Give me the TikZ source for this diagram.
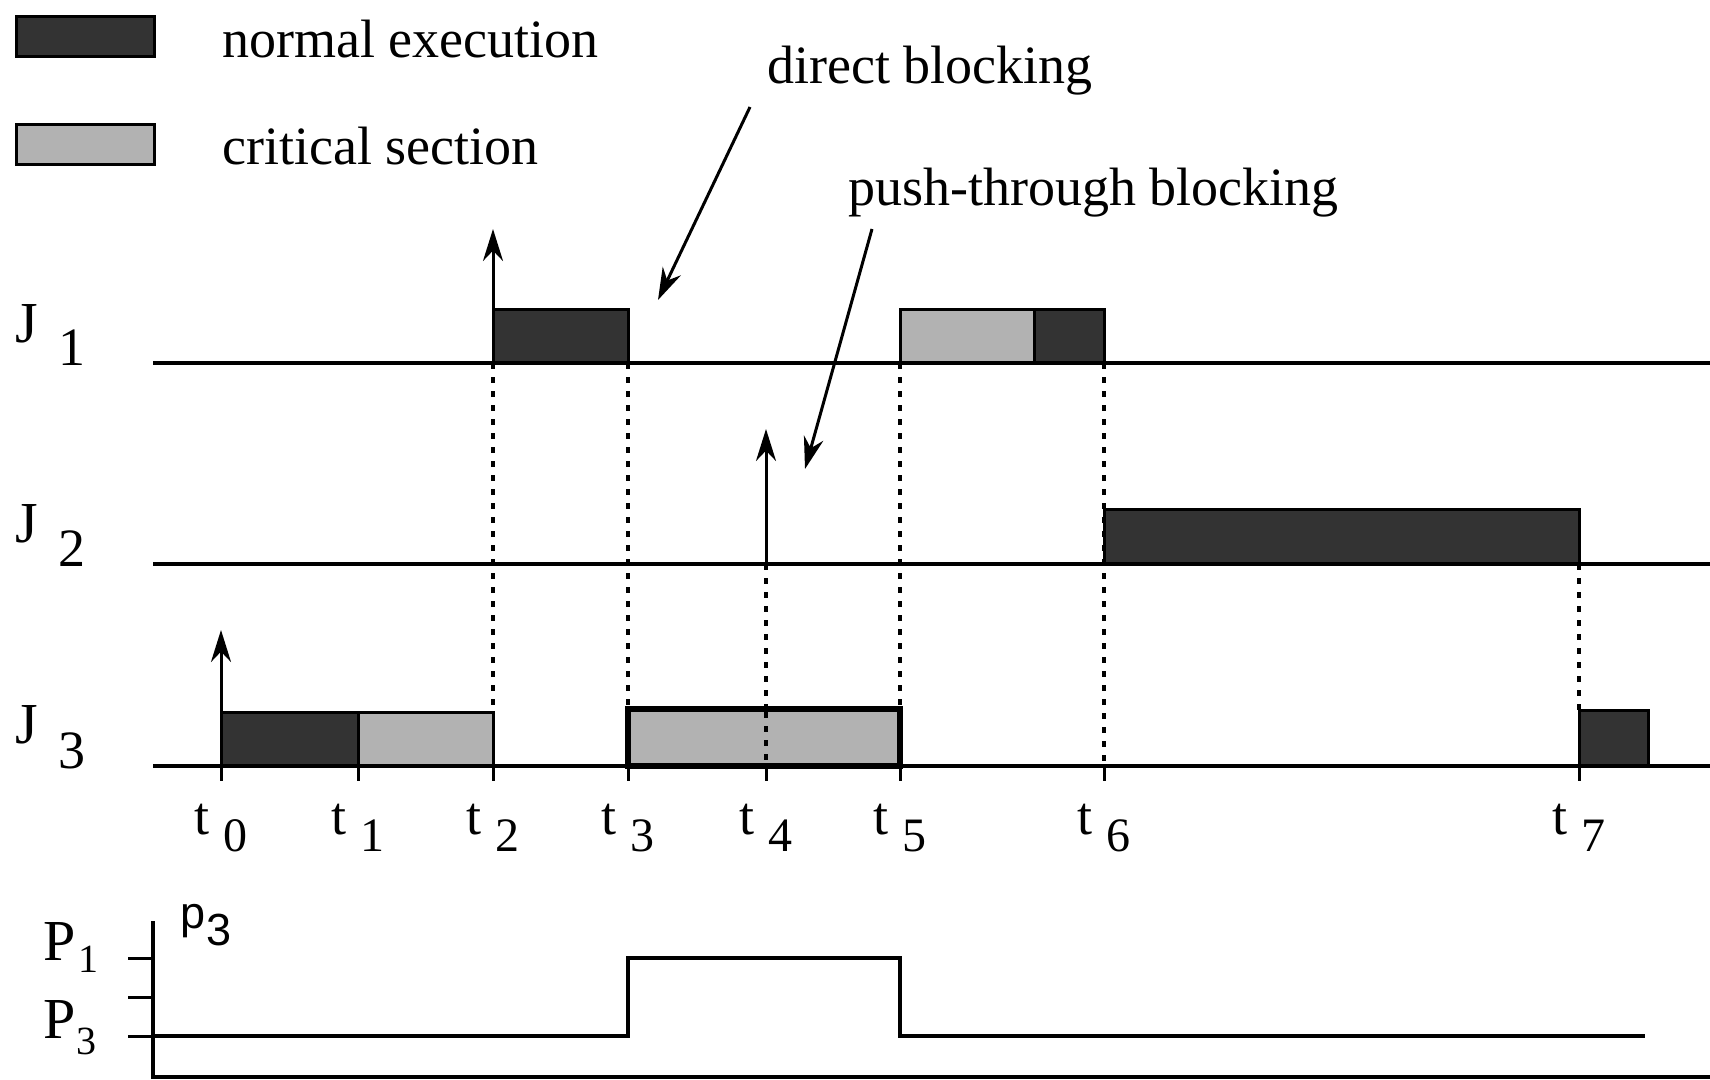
\documentclass[tikz,border=0pt]{standalone}
\usepackage{fontspec}
\setmainfont{Liberation Serif}
\newfontfamily\sansf{Liberation Sans}
\usetikzlibrary{arrows.meta}
\begin{document}
\begin{tikzpicture}[x=1pt,y=-1pt,line join=miter,
  baseln/.style={line width=3.5pt},
  darkbox/.style={fill=black!80,draw=black,line width=3pt},
  lightbox/.style={fill=black!30,draw=black,line width=3pt},
  dotl/.style={line width=3.5pt,dash pattern=on 6pt off 8pt},
  uparrow/.style={line width=3pt,-{Stealth[length=32pt,width=20pt]}},
  pointer/.style={line width=3pt,-{Stealth[length=32pt,width=20pt]}},
  lbl/.style={font=\fontsize{54}{60}\selectfont,inner sep=0pt,anchor=base west},
  jl/.style={font=\fontsize{58}{64}\selectfont,inner sep=0pt,anchor=base west},
  sub/.style={font=\fontsize{48}{54}\selectfont,inner sep=0pt,anchor=base west},
  psub/.style={font=\fontsize{40}{44}\selectfont,inner sep=0pt,anchor=base west},
]
\useasboundingbox[fill=white] (0,0) rectangle (1710,1079);

% legend
\path[darkbox] (16,16) rectangle (154,56);
\path[lightbox] (16,124) rectangle (154,164);
\node[lbl] (ne) at (222,57) {normal execution};
\node[lbl] (cs) at (222,164) {critical section};

% annotations
\node[lbl] (db) at (767,83) {direct blocking};
\node[lbl] (pt) at (848,205) {push-through blocking};
\coordinate (dbs) at (750,107);
\coordinate (dbe) at (658,300);
\coordinate (pts) at (872,229);
\coordinate (pte) at (805,469);
\draw[pointer] (dbs) -- (dbe);
\draw[pointer] (pts) -- (pte);

% dotted guides
\draw[dotl] (493,363) -- (493,712);
\draw[dotl] (628,363) -- (628,709);
\draw[dotl] (766,564) -- (766,766);
\draw[dotl] (900,363) -- (900,709);
\draw[dotl] (1104,363) -- (1104,766);
\draw[dotl] (1579,564) -- (1579,710);

% boxes
\path[darkbox] (493,309) rectangle (628,363);
\path[lightbox] (900,309) rectangle (1034,363);
\path[darkbox] (1034,309) rectangle (1104,363);
\path[darkbox] (1104,509) rectangle (1579,564);
\path[darkbox] (221,712) rectangle (358,766);
\path[lightbox] (358,712) rectangle (493,766);
\path[fill=black!30,draw=black,line width=5.5pt] (628,709) rectangle (900,766);
\draw[dotl] (766,712) -- (766,766);
\path[darkbox] (1579,710) rectangle (1648,766);

% timelines
\draw[baseln] (153,363) -- (1710,363);
\draw[baseln] (153,564) -- (1710,564);
\draw[baseln] (153,766) -- (1710,766);
\foreach \x in {221,358,493,628,766,900,1104,1579}
  \draw[line width=3pt] (\x,766) -- (\x,781);

% release arrows
\coordinate (a1s) at (493,363); \coordinate (a1e) at (493,229);
\coordinate (a2s) at (766,564); \coordinate (a2e) at (766,429);
\coordinate (a3s) at (221,766); \coordinate (a3e) at (221,630);
\draw[uparrow] (a1s) -- (a1e);
\draw[uparrow] (a2s) -- (a2e);
\draw[uparrow] (a3s) -- (a3e);

% job labels
\node[jl] (j1) at (15,342) {J};
\node[lbl] (j1s) at (58,365) {1};
\node[jl] (j2) at (15,542) {J};
\node[lbl] (j2s) at (58,566) {2};
\node[jl] (j3) at (15,743) {J};
\node[lbl] (j3s) at (58,768) {3};

% time labels
\foreach \x/\n [count=\i] in {221/0,358/1,493/2,628/3,766/4,900/5,1104/6,1579/7}{
  \node[lbl] (tl\i) at (\x-27,834) {t};
  \node[sub] (ts\i) at (\x+2,851) {\n};
}

% priority plot
\draw[baseln] (153,921) -- (153,1077) -- (1710,1077);
\draw[line width=3pt] (128,958) -- (153,958);
\draw[line width=3pt] (128,997) -- (153,997);
\draw[line width=3pt] (128,1036) -- (153,1036);
\draw[line width=3.5pt] (153,1036) -- (628,1036) -- (628,958) -- (900,958) -- (900,1036) -- (1645,1036);
\node[jl] (p1) at (43,960) {P};
\node[psub] (p1s) at (78,972) {1};
\node[jl] (p3) at (43,1038) {P};
\node[psub] (p3s) at (76,1054) {3};
\node[font=\sansf\fontsize{45}{50}\selectfont,inner sep=0pt,anchor=base west] (cp) at (180,928) {p};
\node[font=\sansf\fontsize{45}{50}\selectfont,inner sep=0pt,anchor=base west] (cps) at (206,945) {3};
\end{tikzpicture}
\end{document}
